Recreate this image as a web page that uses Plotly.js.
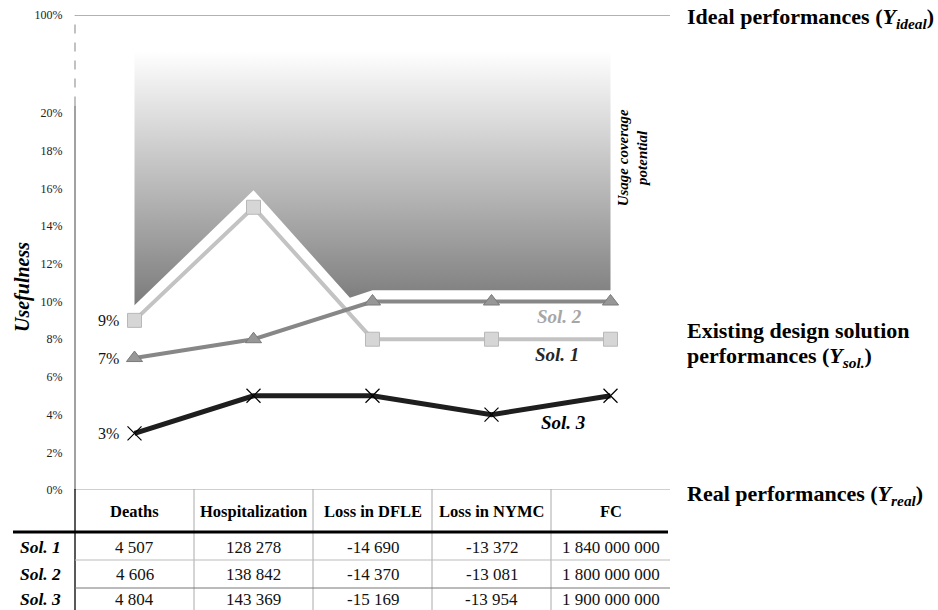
<!DOCTYPE html>
<html>
<head>
<meta charset="utf-8">
<script src="https://cdn.plot.ly/plotly-3.0.1.min.js"></script>
<style>html,body{margin:0;padding:0;background:#fff;}#chart{width:938px;height:610px;}</style>
</head>
<body>
<div id="chart"></div>
<script>
// ---- data ----
const categories = ['Deaths', 'Hospitalization', 'Loss in DFLE', 'Loss in NYMC', 'FC'];
const catIndex = [0, 1, 2, 3, 4];
const solNames = ['Sol. 1', 'Sol. 2', 'Sol. 3'];
const sol1Usefulness = [9, 15, 8, 8, 8];
const sol2Usefulness = [7, 8, 10, 10, 10];
const sol3Usefulness = [3, 5, 5, 4, 5];
// lower edge of the "usage coverage potential" area
const potentialX = [0, 1, 1.81, 2, 3, 4];
const potentialLow = [9.8, 15.9, 10.2, 10.6, 10.6, 10.6];
const potentialTop = 23.3;
// broken axis: 0..20% plus the 100% level
const yTickVals = [0, 2, 4, 6, 8, 10, 12, 14, 16, 18, 20, 25.2];
const yTickText = ['0%', '2%', '4%', '6%', '8%', '10%', '12%', '14%', '16%', '18%', '20%', '100%'];
const axisBreak = 20.4;
const yTop = 25.2;
// table values
const sol1Table = ['4 507', '128 278', '-14 690', '-13 372', '1 840 000 000'];
const sol2Table = ['4 606', '138 842', '-14 370', '-13 081', '1 800 000 000'];
const sol3Table = ['4 804', '143 369', '-15 169', '-13 954', '1 900 000 000'];
const tableRows = [sol1Table, sol2Table, sol3Table];

// ---- layout helpers ----
const M = {l: 75, r: 268, t: 15, b: 120};
const W = 938, H = 610;
const plotH = H - M.t - M.b, plotW = W - M.l - M.r;
const py = p => (H - M.b - p) / plotH;   // pixel y -> paper y
const px = p => (p - M.l) / plotW;       // pixel x -> paper x
const serif = "'Liberation Serif', 'Times New Roman', Times, serif";

// ---- traces ----
const polyX = potentialX.concat([potentialX[potentialX.length - 1], potentialX[0]]);
const polyY = potentialLow.concat([potentialTop, potentialTop]);
const traces = [
  {
    x: polyX, y: polyY, mode: 'lines', fill: 'toself', line: {width: 0, color: 'rgba(0,0,0,0)'},
    fillgradient: {type: 'vertical', colorscale: [[0, '#7b7b7b'], [0.35, '#aaaaaa'], [1, '#ffffff']]},
    hoverinfo: 'skip'
  },
  {
    x: catIndex, y: sol1Usefulness, mode: 'lines+markers', name: solNames[0],
    line: {color: '#c3c3c3', width: 4},
    marker: {symbol: 'square', size: 14, color: '#d6d6d6', line: {color: '#b8b8b8', width: 1}}
  },
  {
    x: catIndex, y: sol2Usefulness, mode: 'lines+markers', name: solNames[1],
    line: {color: '#878787', width: 4},
    marker: {symbol: 'triangle-up', size: 14, color: '#979797', line: {color: '#7a7a7a', width: 1}}
  },
  {
    x: catIndex, y: sol3Usefulness, mode: 'lines+markers', name: solNames[2],
    line: {color: '#1e1e1e', width: 5},
    marker: {symbol: 'x-thin', size: 14, color: '#000', line: {color: '#000', width: 1.2}}
  }
];

// ---- annotations ----
const ann = [];
const A = o => ann.push(Object.assign({showarrow: false, xanchor: 'center', yanchor: 'middle'}, o));
// first-value labels
[sol1Usefulness, sol2Usefulness, sol3Usefulness].forEach(s => {
  A({x: 0, y: s[0], xref: 'x', yref: 'y', text: s[0] + '%',
    xanchor: 'right', xshift: -14, font: {family: serif, size: 16, color: '#111'}});
});
// series labels
A({x: 3.57, y: 9.2, xref: 'x', yref: 'y', text: '<b><i>' + solNames[1] + '</i></b>',
  font: {family: serif, size: 19, color: '#a6a6a6'}});
A({x: 3.55, y: 7.2, xref: 'x', yref: 'y', text: '<b><i>' + solNames[0] + '</i></b>',
  font: {family: serif, size: 19, color: '#262626'}});
A({x: 3.6, y: 3.6, xref: 'x', yref: 'y', text: '<b><i>' + solNames[2] + '</i></b>',
  font: {family: serif, size: 19, color: '#000'}});
// area label
A({x: 4.19, y: 17.6, xref: 'x', yref: 'y', text: '<b><i>Usage coverage<br>potential</i></b>',
  textangle: -90, font: {family: serif, size: 15, color: '#000'}});
// axis title
A({x: px(22), y: py(287), xref: 'paper', yref: 'paper', text: '<b><i>Usefulness</i></b>',
  textangle: -90, font: {family: serif, size: 20, color: '#000'}});
// right side labels
const rf = {family: serif, size: 22, color: '#000'};
A({x: px(685), y: py(18), xref: 'paper', yref: 'paper', xanchor: 'left',
  text: '<b>Ideal performances (<i>Y</i><sub><i>ideal</i></sub>)</b>', font: rf});
A({x: px(685), y: py(330), xref: 'paper', yref: 'paper', xanchor: 'left',
  text: '<b>Existing design solution</b>', font: rf});
A({x: px(685), y: py(357), xref: 'paper', yref: 'paper', xanchor: 'left',
  text: '<b>performances (<i>Y</i><sub><i>sol.</i></sub>)</b>', font: rf});
A({x: px(685), y: py(495), xref: 'paper', yref: 'paper', xanchor: 'left',
  text: '<b>Real performances (<i>Y</i><sub><i>real</i></sub>)</b>', font: rf});
// table header
categories.forEach((c, i) => {
  A({x: catIndex[i], y: py(511), xref: 'x', yref: 'paper', text: '<b>' + c + '</b>',
    font: {family: serif, size: 16.5, color: '#000'}});
});
// table body
const rowY = [547, 574, 599];
tableRows.forEach((row, r) => {
  A({x: px(63), y: py(rowY[r]), xref: 'paper', yref: 'paper', xanchor: 'right',
    text: '<b><i>' + solNames[r] + '</i></b>', font: {family: serif, size: 17.5, color: '#000'}});
  row.forEach((v, i) => {
    A({x: catIndex[i], y: py(rowY[r]), xref: 'x', yref: 'paper', text: v,
      font: {family: serif, size: 17, color: '#111'}});
  });
});

// ---- shapes ----
const shapes = [];
shapes.push({type: 'line', xref: 'paper', yref: 'y', x0: 0, x1: 0, y0: 0, y1: axisBreak, line: {color: '#6f6f6f', width: 1.3}});
shapes.push({type: 'line', xref: 'paper', yref: 'y', x0: 0, x1: 0, y0: axisBreak, y1: yTop, line: {color: '#999', width: 1.2, dash: 'dash'}});
shapes.push({type: 'line', xref: 'paper', yref: 'y', x0: 0, x1: 1, y0: yTop, y1: yTop, line: {color: '#999', width: 1.5}});
shapes.push({type: 'line', xref: 'paper', yref: 'y', x0: 0, x1: 1, y0: 0, y1: 0, line: {color: '#a0a0a0', width: 1.2}});
shapes.push({type: 'line', xref: 'paper', yref: 'paper', x0: 0, x1: 0, y0: py(489), y1: py(612), line: {color: '#222', width: 1.5}});
[0.5, 1.5, 2.5, 3.5].forEach(v => {
  shapes.push({type: 'line', xref: 'x', yref: 'paper', x0: v, x1: v, y0: py(489), y1: py(612), line: {color: '#aaa', width: 1}});
});
shapes.push({type: 'line', xref: 'paper', yref: 'paper', x0: px(13), x1: px(668), y0: py(532), y1: py(532), line: {color: '#000', width: 3}});
shapes.push({type: 'line', xref: 'paper', yref: 'paper', x0: 0, x1: 1, y0: py(560), y1: py(560), line: {color: '#bbb', width: 1}});
shapes.push({type: 'line', xref: 'paper', yref: 'paper', x0: 0, x1: 1, y0: py(588), y1: py(588), line: {color: '#777', width: 1}});

const layout = {
  width: W, height: H,
  margin: M,
  paper_bgcolor: '#fff', plot_bgcolor: '#fff',
  showlegend: false,
  font: {family: serif},
  xaxis: {range: [-0.5, 4.5], showgrid: false, zeroline: false, showticklabels: false, showline: false, fixedrange: true},
  yaxis: {range: [0, yTop], tickvals: yTickVals, ticktext: yTickText, showgrid: false, zeroline: false, showline: false,
    ticks: 'outside', ticklen: 9, tickcolor: 'rgba(0,0,0,0)',
    tickfont: {family: serif, size: 12, color: '#222'}, fixedrange: true},
  annotations: ann,
  shapes: shapes
};

Plotly.newPlot('chart', traces, layout, {displayModeBar: false, staticPlot: true});
</script>
</body>
</html>
